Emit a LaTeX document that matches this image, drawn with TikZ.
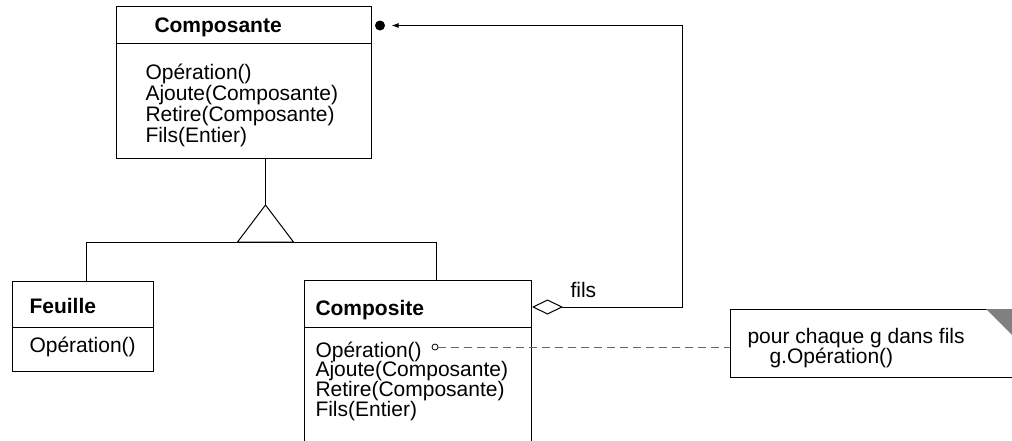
\documentclass[tikz,border=0pt]{standalone}
\usepackage{fontspec}
\setmainfont{Liberation Sans}
\usetikzlibrary{arrows.meta}

\newcommand\umlfont{\fontsize{21}{21}\selectfont}

\tikzset{
    box/.style = {draw, anchor = north west, inner sep = 0pt},
    cname/.style = {anchor = base west, inner sep = 0pt, font = \umlfont\bfseries},
    ops/.style = {anchor = base west, inner sep = 0pt, align = left, font = \umlfont},
    dashlink/.style = {draw = black!60, dash pattern = on 8pt off 5pt},
}

\begin{document}
\begin{tikzpicture}[x = 1pt, y = -1pt, line width = 1pt]
    \useasboundingbox (0,0) rectangle (1012,440);
    \clip (0,0) rectangle (1012,440);

    % Composante
    \node[box, minimum width = 255, minimum height = 37] (compo) at (116,6) {};
    \node[box, minimum width = 255, minimum height = 115] (compoOps) at (116,43) {};
    \node[cname] (compoName) at (154,32) {Composante};
    \node[ops] (compoText) at (145,142)
        {Opération()\\Ajoute(Composante)\\Retire(Composante)\\Fils(Entier)};

    % Feuille
    \node[box, minimum width = 141, minimum height = 46] (feuille) at (12,281) {};
    \node[box, minimum width = 141, minimum height = 44] (feuilleOps) at (12,327) {};
    \node[cname] (feuilleName) at (29,313) {Feuille};
    \node[ops] (feuilleText) at (29,352) {Opération()};

    % Composite
    \node[box, minimum width = 227, minimum height = 47] (composite) at (304,280) {};
    \node[box, minimum width = 227, minimum height = 130] (compositeOps) at (304,327) {};
    \node[cname] (compositeName) at (315,315) {Composite};
    \node[ops, font = \fontsize{21}{19.8}\selectfont] (compositeText) at (315,416.5)
        {Opération()\\Ajoute(Composante)\\Retire(Composante)\\Fils(Entier)};

    % note
    \node[box, minimum width = 300, minimum height = 68] (note) at (730,309) {};
    \fill[black!50] (986,309) -- (1030,309) -- (1030,353) -- cycle;
    \node[ops, font = \fontsize{21}{20}\selectfont] (noteText) at (747,363)
        {pour chaque g dans fils\\\hspace*{22pt}g.Opération()};

    % heritage
    \coordinate (genTop) at (265.5,205);
    \coordinate (genL) at (86,242);
    \coordinate (genR) at (436,242);
    \draw (compoOps.south -| genTop) -- (genTop);
    \draw (genTop) -- ++(28,37) -- ++(-56,0) -- cycle;
    \draw (feuille.north -| genL) -- (genL) -- (genR) -- (composite.north -| genR);

    % fils
    \node[circle, fill, inner sep = 0pt, minimum size = 10] (dot) at (380,25.5) {};
    \coordinate (bend) at (682,307);
    \draw[{Diamond[open, length = 31pt, width = 15pt]}-{Latex[length = 7pt, width = 5pt]},
        shorten > = 6pt] (composite.east |- bend) -- (bend) |- (dot.east);
    \node[anchor = base west, inner sep = 0pt, font = \umlfont] (filsLabel) at (570,297) {fils};

    % note link
    \node[circle, draw, inner sep = 0pt, minimum size = 6, line width = 0.8pt] (opDot) at (435,347) {};
    \draw[dashlink] (opDot) -- (note.west |- opDot);
\end{tikzpicture}
\end{document}
